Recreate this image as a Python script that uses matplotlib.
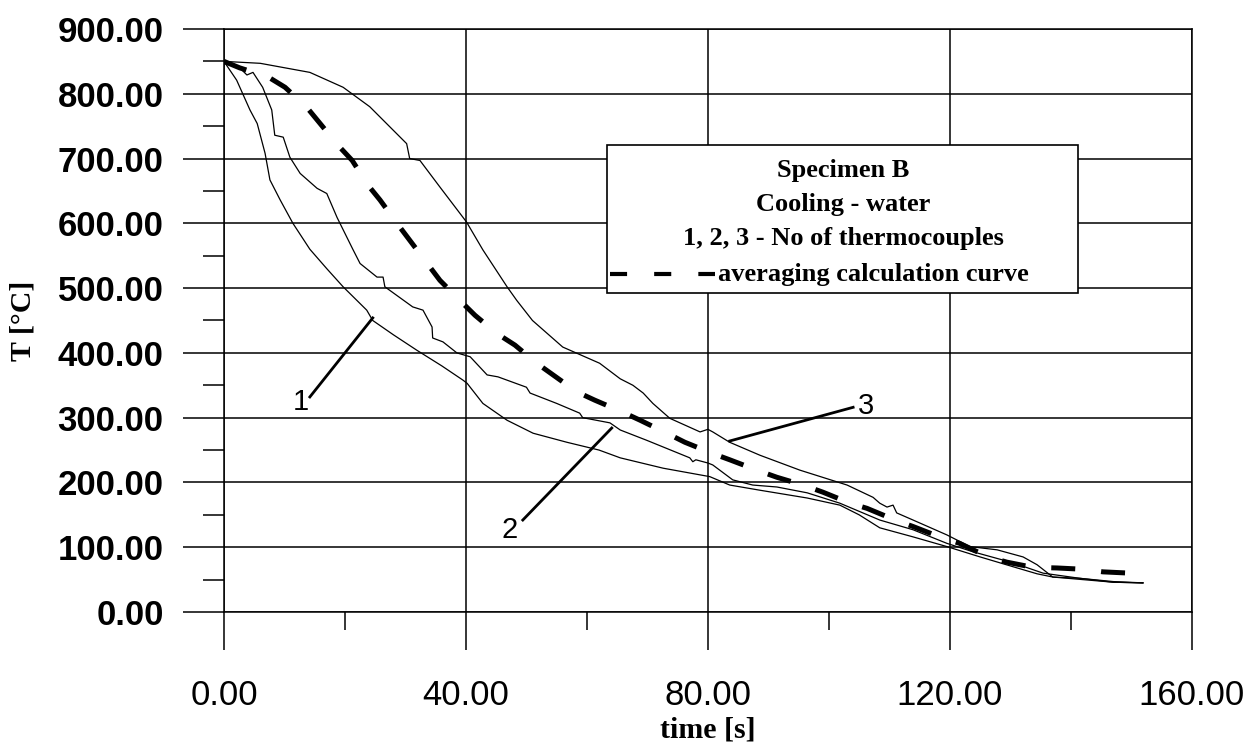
import matplotlib
matplotlib.use("Agg")
import matplotlib.pyplot as plt
from matplotlib.patches import Rectangle
from matplotlib.lines import Line2D
from matplotlib.ticker import MultipleLocator, FormatStrFormatter

# thermocouple 1 (fastest cooling)
t1 = [0, 2.1, 4.3, 5.5, 6.8, 7.6, 9.3, 11.4, 14.2, 17.0, 19.7, 23.6, 24.6, 28.0, 31.9,
      36.0, 39.5, 40.2, 42.8, 46.8, 51.1, 56.7, 62.0, 65.5, 72.6, 80.3, 83.6, 88.6,
      96.4, 101.8, 105.0, 108.4, 113.9, 119.5, 125.0, 130.4, 134.4, 137.0, 142.0, 147.0, 151.9]
T1 = [850, 821, 775, 754, 708, 667, 636, 600, 560, 530, 502, 466, 450, 428, 404,
      380, 358, 353, 322, 296, 276, 262, 250, 238, 222, 209, 196, 188,
      176, 165, 150, 130, 116, 101, 85, 70, 59, 54, 50, 46, 45]

# thermocouple 2
t2 = [0, 2.6, 3.8, 4.8, 6.4, 7.9, 8.4, 9.8, 10.9, 12.6, 15.4, 17.0, 18.7, 21.3, 22.5,
      25.3, 26.3, 26.6, 31.2, 32.9, 34.4, 34.5, 36.2, 38.5, 40.7, 43.5, 45.3, 50.0, 50.6,
      55.0, 58.8, 59.3, 63.8, 65.5, 69.9, 77.0, 77.5, 78.0, 80.0, 80.8, 84.1, 87.4, 91.4,
      96.4, 101.8, 108.4, 113.9, 119.5, 123.8, 130.4, 135.4, 141.5, 147.0, 151.9]
T2 = [850, 840, 829, 833, 810, 775, 736, 733, 702, 677, 654, 646, 609, 560, 538,
      517, 517, 502, 471, 466, 440, 423, 417, 400, 394, 366, 363, 347, 338,
      322, 307, 300, 292, 281, 265, 238, 232, 235, 230, 227, 204, 196, 193,
      184, 168, 142, 127, 106, 93, 76, 60, 52, 47, 45]

# thermocouple 3 (slowest cooling)
t3 = [0, 6.0, 14.2, 19.7, 24.1, 30.2, 30.7, 32.4, 35.7, 40.1, 42.8, 46.8, 48.4, 51.0,
      56.0, 62.1, 65.5, 67.6, 69.3, 70.9, 73.7, 78.7, 80.0, 80.8, 83.6, 88.6, 95.2, 103.0,
      107.3, 108.4, 109.6, 110.6, 111.2, 113.9, 119.5, 123.3, 127.8, 132.1, 134.4, 137.0,
      141.5, 147.0, 151.9]
T3 = [850, 847, 833, 810, 780, 723, 700, 697, 656, 602, 559, 502, 481, 450,
      409, 384, 360, 350, 338, 322, 299, 278, 282, 278, 262, 242, 219, 196,
      177, 168, 162, 165, 153, 142, 119, 101, 96, 85, 73, 54,
      52, 46, 45]

# averaging calculation curve
ta = [0, 2.6, 7.3, 10.1, 13.7, 15.9, 18.8, 21.2, 23.8, 25.8, 28.6, 30.7, 33.6, 35.7, 39.0,
      41.5, 45.1, 48.1, 51.7, 54.4, 58.3, 61.3, 65.8, 68.8, 73.2, 76.2, 80.7, 83.6, 88.1,
      91.4, 95.7, 99.0, 103.5, 106.3, 111.2, 113.9, 118.3, 121.6, 126.1, 129.4, 133.7,
      137.7, 142.0, 145.3, 149.8, 152.2]
Ta = [850, 840, 826, 810, 779, 754, 721, 697, 659, 636, 600, 574, 538, 512, 481,
      458, 430, 412, 384, 366, 340, 327, 309, 296, 276, 262, 245, 235, 219,
      208, 196, 185, 168, 160, 141, 132, 116, 106, 86, 77, 69,
      68, 66, 62, 60, 60]

legend_lines = ["Specimen B", "Cooling - water", "1, 2, 3 - No of thermocouples"]
legend_avg = "averaging calculation curve"

serif = "Liberation Serif"
sans = "Liberation Sans"

fig = plt.figure(figsize=(12.49, 7.45), dpi=100)
ax = fig.add_axes([0.1793, 0.1785, 0.7750, 0.7826])

for t, T in [(t1, T1), (t2, T2), (t3, T3)]:
    ax.plot(t, T, color="black", lw=0.9, zorder=3)
ax.plot(ta, Ta, color="black", lw=3.6, dashes=(4.8, 5.2), zorder=3)

# wskazniki numerow termopar
ax.plot([14.2, 24.6], [332, 454], color="black", lw=2.0, zorder=3)
ax.plot([49.4, 64.1], [142, 284], color="black", lw=2.0, zorder=3)
ax.plot([83.6, 104.0], [264, 316], color="black", lw=2.0, zorder=3)
ax.text(12.7, 324, "1", fontsize=21, family=sans, ha="center", va="center")
ax.text(47.3, 127, "2", fontsize=21, family=sans, ha="center", va="center")
ax.text(106.1, 318, "3", fontsize=21, family=sans, ha="center", va="center")

ax.set_xlim(0, 160)
ax.set_ylim(0, 900)
ax.xaxis.set_major_locator(MultipleLocator(40))
ax.xaxis.set_minor_locator(MultipleLocator(20))
ax.yaxis.set_major_locator(MultipleLocator(100))
ax.yaxis.set_minor_locator(MultipleLocator(50))
ax.xaxis.set_major_formatter(FormatStrFormatter("%.2f"))
ax.yaxis.set_major_formatter(FormatStrFormatter("%.2f"))
ax.grid(True, which="major", color="black", lw=1.1, zorder=1)
for s in ax.spines.values():
    s.set_linewidth(1.1)

ax.tick_params(axis="x", which="major", direction="out", length=27, width=1.1, pad=21)
ax.tick_params(axis="x", which="minor", direction="out", length=13, width=1.1)
ax.tick_params(axis="y", which="major", direction="out", length=29.5, width=1.1, pad=14)
ax.tick_params(axis="y", which="minor", direction="out", length=15, width=1.1)
for lab in ax.get_xticklabels():
    lab.set_fontsize(25)
    lab.set_family(sans)
for lab in ax.get_yticklabels():
    lab.set_fontsize(25)
    lab.set_family(sans)
    lab.set_fontweight("bold")

ax.set_xlabel("time [s]", fontsize=21.5, family=serif, fontweight="bold")
ax.set_ylabel("T [°C]", fontsize=21.5, family=serif, fontweight="bold")
ax.xaxis.set_label_coords(0.5, -0.203)
ax.xaxis.label.set_va("center")
ax.yaxis.set_label_coords(-0.208, 0.5)
ax.yaxis.label.set_va("center")

# ramka z opisem
box = Rectangle((0.3957, 0.5472), 0.4865, 0.2538, transform=ax.transAxes,
                facecolor="white", edgecolor="black", lw=1.2, zorder=4)
ax.add_patch(box)
for ypos, txt in zip([0.746, 0.6878, 0.6295], legend_lines):
    ax.text(0.6395, ypos, txt, transform=ax.transAxes, ha="center", va="baseline",
            fontsize=19, family=serif, fontweight="bold", zorder=5)
ax.add_line(Line2D([0.399, 0.507], [0.5795, 0.5795], transform=ax.transAxes,
                   color="black", lw=3.0, dashes=(4.1, 6.5), zorder=5))
ax.text(0.5103, 0.5677, legend_avg, transform=ax.transAxes, ha="left", va="baseline",
        fontsize=19, family=serif, fontweight="bold", zorder=5)

fig.savefig("out.png", dpi=100)
